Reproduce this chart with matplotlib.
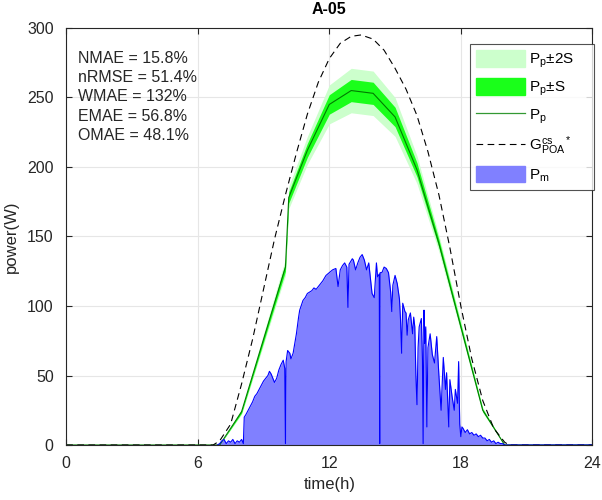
import matplotlib
matplotlib.use('Agg')
import matplotlib.pyplot as plt
import numpy as np
from matplotlib.patches import Patch
from matplotlib.lines import Line2D

plt.rcParams.update({
    'font.family': ['Liberation Sans', 'DejaVu Sans'],
    'mathtext.fontset': 'custom',
    'mathtext.rm': 'Liberation Sans',
    'mathtext.it': 'Liberation Sans',
})

# ── data ──
# predicted power P_p and its spread S
pp_t = [0, 7.0, 8.0, 10.0, 10.15, 11, 12, 13, 14, 15, 16, 17, 18, 19, 20, 24]
pp_v = [0, 0, 24, 128, 178, 212, 245, 255, 253, 236, 198, 145, 85, 25, 0, 0]
pp_s = [0, 0, 1, 3, 4, 5, 7, 8, 8, 7, 5, 3, 2, 1, 0, 0]

# clear-sky POA irradiance (scaled)
g_t = [0, 6.7, 7.0, 7.5, 8.0, 8.5, 9.0, 9.5, 10.0, 10.5, 11.0, 11.5, 12.0, 12.5,
       13.0, 13.45, 14.0, 14.5, 15.0, 15.5, 16.0, 16.5, 17.0, 17.5, 18.0, 18.5,
       19.0, 19.5, 20.0, 20.2, 24]
g_v = [0, 0, 3, 15, 44, 76, 112, 148, 180, 210, 238, 261, 278, 289,
       294, 295, 292, 284, 271, 256, 237, 211, 180, 142, 100, 62,
       32, 12, 2, 0, 0]

# measured power P_m
pm_t = [6.9, 7.0, 7.1, 7.2, 7.3, 7.4, 7.5, 7.6, 7.7, 7.8, 7.9, 8.0, 8.08, 8.12,
        8.2, 8.3, 8.4, 8.5, 8.6, 8.7, 8.8, 8.9, 9.0, 9.1, 9.2, 9.27, 9.35, 9.5,
        9.6, 9.7, 9.8, 9.9, 9.97, 10.0, 10.03, 10.1, 10.2, 10.25, 10.35, 10.5,
        10.6, 10.65, 10.8, 10.9, 11.0, 11.1, 11.2, 11.3, 11.4, 11.55, 11.7, 11.85,
        12.0, 12.15, 12.3, 12.4, 12.5, 12.6, 12.7, 12.8, 12.85, 12.9, 13.05,
        13.1, 13.2, 13.3, 13.4, 13.5, 13.6, 13.7, 13.8, 13.95, 14.05, 14.15,
        14.2, 14.28, 14.3, 14.32, 14.4, 14.5, 14.6, 14.7, 14.8, 14.85, 14.9,
        15.0, 15.1, 15.2, 15.25, 15.3, 15.35, 15.45, 15.5, 15.55, 15.6, 15.7,
        15.8, 15.85, 15.9, 15.95, 16.0, 16.05, 16.1, 16.2, 16.25, 16.28, 16.32,
        16.35, 16.4, 16.45, 16.5, 16.6, 16.7, 16.8, 16.9, 17.0, 17.1, 17.2,
        17.3, 17.35, 17.45, 17.5, 17.6, 17.7, 17.75, 17.85, 17.9, 17.95, 18.0,
        18.05, 18.1, 18.2, 18.3, 18.4, 18.5, 18.6, 18.7, 18.8, 18.9, 19.0,
        19.1, 19.2, 19.3, 19.4, 19.5, 19.6, 19.7, 19.8, 19.9, 20.0, 24.0]
pm_v = [0, 1, 3, 4, 1, 3, 2, 4, 1, 3, 2, 4, 1, 20,
        22, 25, 28, 31, 35, 37, 40, 43, 46, 48, 50, 53, 51, 45,
        48, 54, 58, 61, 55, 1, 60, 68, 66, 62, 66, 80,
        92, 97, 104, 106, 109, 110, 111, 113, 112, 115, 118, 122,
        124, 126, 127, 114, 126, 129, 131, 128, 99, 130, 134,
        133, 126, 131, 135, 137, 133, 126, 131, 109, 106, 131,
        121, 123, 1, 124, 124, 128, 127, 124, 110, 96, 115,
        122, 116, 105, 90, 66, 102, 96, 95, 79, 90, 95,
        80, 92, 85, 50, 29, 70, 85, 91, 61, 1, 97,
        73, 85, 13, 70, 80, 65, 59, 78, 50, 25, 63,
        40, 52, 13, 47, 35, 25, 40, 30, 60, 15, 6,
        13, 12, 9, 11, 8, 9, 7, 8, 6, 7, 5,
        5, 3, 4, 2, 3, 1, 2, 1, 1, 0, 0]

pp_t, pp_v, pp_s = np.array(pp_t), np.array(pp_v), np.array(pp_s)

fig = plt.figure(figsize=(6.02, 5.0), dpi=100, facecolor='white')
ax = fig.add_axes([0.110, 0.110, 0.874, 0.834])

ax.fill_between(pp_t, pp_v - 2 * pp_s, pp_v + 2 * pp_s, color='#ccffcc', lw=0)
ax.fill_between(pp_t, pp_v - pp_s, pp_v + pp_s, color='#1aff1a', lw=0)
ax.plot(pp_t, pp_v, color='#007a00', lw=0.8)
ax.plot(g_t, g_v, color='black', lw=0.8, ls=(0, (6, 4)))
ax.fill_between(pm_t, 0, pm_v, color='#8080ff', lw=0)
ax.plot(pm_t, pm_v, color='#0000ff', lw=0.8)

ax.set_xlim(0, 24)
ax.set_ylim(0, 300)
ax.set_xticks([0, 6, 12, 18, 24])
ax.set_yticks(np.arange(0, 301, 50))
ax.grid(True, color='#e6e6e6', lw=0.8)
ax.set_axisbelow(True)
ax.tick_params(direction='in', labelsize=11.5, top=True, right=True, length=4,
               colors='#262626')
ax.tick_params(axis='x', pad=8)
ax.tick_params(axis='y', pad=9)
for sp in ax.spines.values():
    sp.set_color('#262626')
    sp.set_linewidth(0.8)
ax.set_xlabel('time(h)', fontsize=12, color='#262626', labelpad=4)
ax.set_ylabel('power(W)', fontsize=12, color='#262626', labelpad=6)
ax.set_title('A-05', fontsize=11.5, fontweight='bold', pad=10)

metrics = ['NMAE = 15.8%', 'nRMSE = 51.4%', 'WMAE = 132%', 'EMAE = 56.8%', 'OMAE = 48.1%']
ax.text(0.022, 0.945, '\n'.join(metrics), transform=ax.transAxes, va='top',
        ha='left', fontsize=11.5, linespacing=1.35, color='#262626')

handles = [
    Patch(facecolor='#ccffcc', edgecolor='#ccffcc'),
    Patch(facecolor='#1aff1a', edgecolor='#1aff1a'),
    Line2D([], [], color='#339933', lw=0.9),
    Line2D([], [], color='black', lw=0.8, ls=(0, (6, 4))),
    Patch(facecolor='#8080ff', edgecolor='#8080ff'),
]
labels = [r'P$_\mathrm{p}$±2S    ', r'P$_\mathrm{p}$±S    ', r'P$_\mathrm{p}$    ',
          r'G$^\mathrm{cs}_\mathrm{POA}$$^*$    ', r'P$_\mathrm{m}$    ']
leg = ax.legend(handles, labels, loc='upper right', bbox_to_anchor=(1.003, 0.962),
                fontsize=11, frameon=True, fancybox=False, edgecolor='#262626',
                handlelength=3.2, handleheight=1.3, labelspacing=0.55,
                handletextpad=0.3, borderpad=0.4, borderaxespad=0)
leg.get_frame().set_linewidth(0.8)

fig.savefig('out.png', dpi=100, facecolor='white')
